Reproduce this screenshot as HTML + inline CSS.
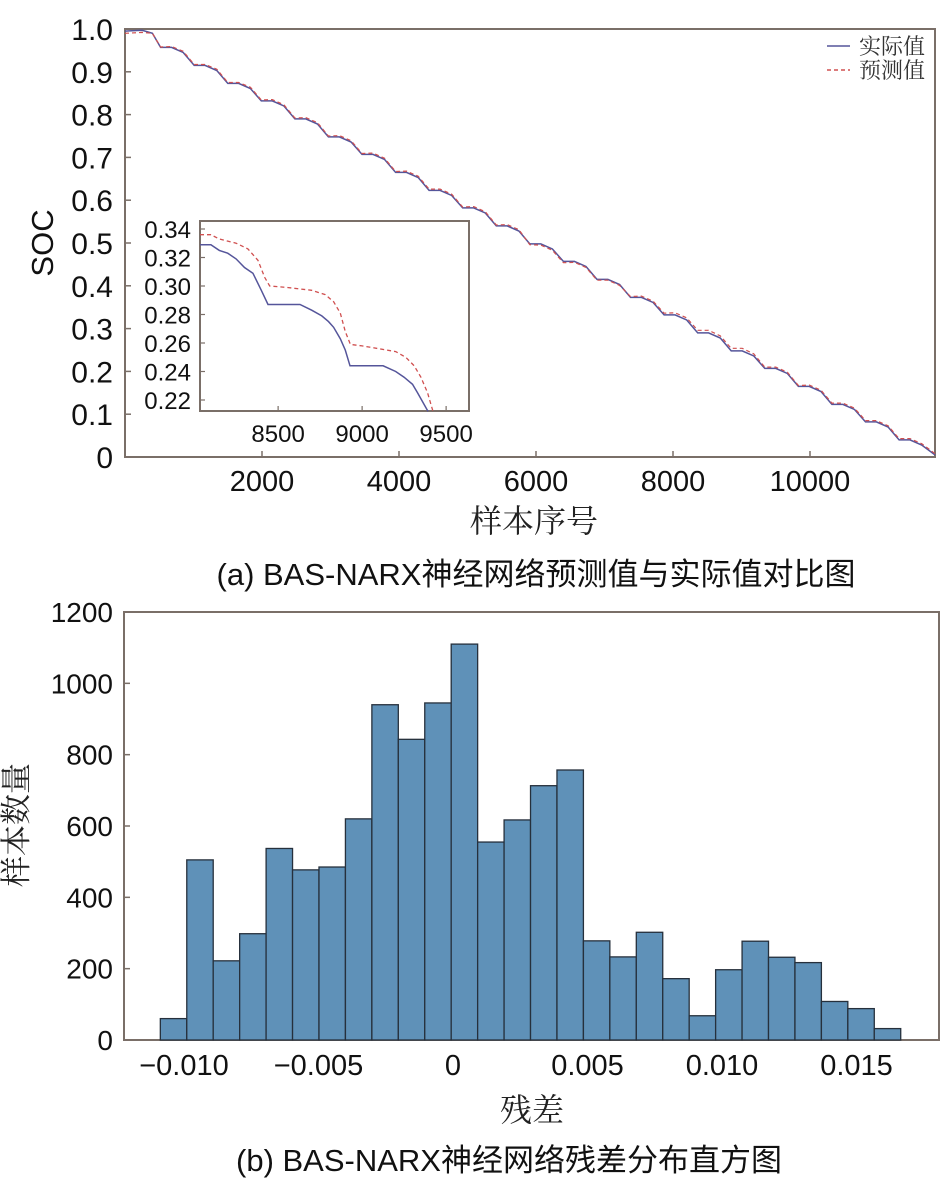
<!DOCTYPE html>
<html><head><meta charset="utf-8">
<style>
html,body{margin:0;padding:0;background:#fff;}
svg{display:block;font-family:"Liberation Sans","Noto Sans CJK SC",sans-serif;}
.cjk{font-family:"Liberation Serif","Noto Serif CJK SC",serif;}
</style></head>
<body>
<svg id="fig" width="945" height="1186" viewBox="0 0 945 1186" xmlns="http://www.w3.org/2000/svg">
<g id="chartA"></g>
<g id="chartB"></g>
</svg>
<script>
// ---------- Chart A data ----------
const socTicks = [0,0.1,0.2,0.3,0.4,0.5,0.6,0.7,0.8,0.9,1.0];
const socTickLabels = ["0","0.1","0.2","0.3","0.4","0.5","0.6","0.7","0.8","0.9","1.0"];
const sampleTicks = [2000,4000,6000,8000,10000];
const actualX = [0,250,400,520,680,850,1010,1170,1340,1500,1660,1830,1990,2150,2320,2480,2640,2810,2970,3130,3300,3460,3620,3790,3950,4110,4280,4440,4600,4770,4930,5090,5260,5420,5580,5750,5910,6070,6240,6400,6560,6730,6890,7050,7220,7380,7540,7710,7870,8030,8200,8360,8520,8690,8850,9010,9180,9340,9500,9670,9830,9990,10160,10320,10480,10650,10810,10970,11140,11300,11460,11630,11825];
const actualY = [0.995,0.997,0.99,0.957,0.957,0.945,0.915,0.915,0.903,0.873,0.873,0.861,0.832,0.832,0.820,0.790,0.790,0.778,0.748,0.748,0.736,0.707,0.707,0.695,0.665,0.665,0.653,0.623,0.623,0.611,0.582,0.582,0.570,0.540,0.540,0.528,0.498,0.498,0.486,0.457,0.457,0.445,0.415,0.415,0.403,0.373,0.373,0.361,0.332,0.332,0.320,0.290,0.290,0.278,0.248,0.248,0.236,0.207,0.207,0.195,0.165,0.165,0.153,0.123,0.123,0.111,0.082,0.082,0.070,0.040,0.040,0.028,0.005];
const predY = [0.99,0.992,0.99,0.958,0.959,0.948,0.917,0.917,0.906,0.875,0.875,0.864,0.834,0.835,0.823,0.792,0.793,0.781,0.750,0.751,0.739,0.709,0.710,0.698,0.667,0.668,0.656,0.626,0.626,0.614,0.584,0.585,0.573,0.542,0.543,0.531,0.496,0.495,0.483,0.454,0.455,0.443,0.413,0.413,0.401,0.375,0.376,0.364,0.336,0.337,0.325,0.296,0.296,0.283,0.254,0.254,0.241,0.210,0.210,0.198,0.167,0.168,0.156,0.126,0.126,0.114,0.085,0.085,0.073,0.043,0.043,0.031,0.008];
// inset
const insetTicksX = [8500,9000,9500];
const insetTicksY = [0.22,0.24,0.26,0.28,0.30,0.32,0.34];
const insetActX = [8035,8100,8150,8200,8250,8300,8350,8400,8440,8630,8700,8760,8800,8830,8870,8900,8928,9125,9200,9250,9300,9330,9392];
const insetActY = [0.329,0.329,0.325,0.323,0.319,0.313,0.309,0.297,0.287,0.287,0.283,0.279,0.275,0.271,0.263,0.255,0.244,0.244,0.240,0.236,0.231,0.225,0.212];
const insetPredX = [8035,8100,8150,8250,8320,8380,8420,8450,8550,8700,8780,8830,8870,8900,8930,9000,9100,9200,9260,9310,9350,9390,9422];
const insetPredY = [0.336,0.336,0.333,0.330,0.326,0.318,0.306,0.300,0.299,0.297,0.294,0.289,0.281,0.268,0.259,0.258,0.256,0.254,0.250,0.244,0.236,0.225,0.212];

// ---------- Chart B data ----------
const binStart = -0.01088;
const binWidth = 0.000983;
const counts = [60,505,222,298,537,477,485,620,940,843,945,1110,555,617,713,757,278,233,302,172,68,197,277,232,217,108,88,32];
const countTicks = [0,200,400,600,800,1000,1200];
const residTicks = [-0.010,-0.005,0,0.005,0.010,0.015];
const residTickLabels = ["\u22120.010","\u22120.005","0","0.005","0.010","0.015"];

const NS="http://www.w3.org/2000/svg";
function mk(tag, attrs, parent){const e=document.createElementNS(NS,tag);for(const k in attrs)e.setAttribute(k,attrs[k]);parent.appendChild(e);return e;}
const axisCol="#7a6f68";

// ---------- Chart A ----------
(function(){
const g=document.getElementById('chartA');
const L=125,R=935,T=29,B=457;
const xs=v=>L+v*0.0685;
const ys=v=>B-(v)*(B-T);
const frame=mk('rect',{x:L,y:T,width:R-L,height:B-T,fill:'none',stroke:axisCol,'stroke-width':2},g);


socTicks.forEach((v,i)=>{
  const t=mk('line',{x1:L,x2:L+6,y1:ys(v),y2:ys(v),stroke:axisCol,'stroke-width':1.5},g);
  
  const tx=mk('text',{x:113,y:ys(v)+11,'text-anchor':'end','font-size':30,fill:'#111'},g);
  tx.textContent=socTickLabels[i];
  
});
sampleTicks.forEach(v=>{
  const t=mk('line',{x1:xs(v),x2:xs(v),y1:B,y2:B-6,stroke:axisCol,'stroke-width':1.5},g);
  
  const tx=mk('text',{x:xs(v),y:491,'text-anchor':'middle','font-size':29,fill:'#111'},g);
  tx.textContent=String(v);
  
});
const pts=(X,Y,fx,fy)=>X.map((x,i)=>fx(x).toFixed(1)+','+fy(Y[i]).toFixed(1)).join(' ');
const pa=mk('polyline',{points:pts(actualX,actualY,xs,ys),fill:'none',stroke:'#55559a','stroke-width':1.5},g);

const pp=mk('polyline',{points:pts(actualX,predY,xs,ys),fill:'none',stroke:'#d05050','stroke-width':1.2,'stroke-dasharray':'4,3'},g);

// legend
const lg=mk('g',{},g);
mk('line',{x1:827,x2:850,y1:46,y2:46,stroke:'#55559a','stroke-width':1.5},lg);
mk('line',{x1:827,x2:850,y1:70,y2:70,stroke:'#d05050','stroke-width':1.5,'stroke-dasharray':'4,3'},lg);
const l1=mk('text',{x:859,y:54,'font-size':22,fill:'#333',class:'cjk'},lg);l1.textContent='实际值';

const l2=mk('text',{x:859,y:78,'font-size':22,fill:'#333',class:'cjk'},lg);l2.textContent='预测值';

// axis titles
const yt=mk('text',{x:53,y:243,'text-anchor':'middle','font-size':31,fill:'#111',transform:'rotate(-90 53 243)'},g);
yt.textContent='SOC';
const xt=mk('text',{x:534,y:532,'text-anchor':'middle','font-size':32,fill:'#222',class:'cjk'},g);
xt.textContent='样本序号';
const cap=mk('text',{x:536,y:585,'text-anchor':'middle','font-size':31,fill:'#111'},g);
cap.textContent='(a) BAS-NARX神经网络预测值与实际值对比图';
// inset
const ig=mk('g',{},g);
const iL=200,iR=469,iT=221,iB=411;
const ixs=v=>iL+(v-8035)*0.168;
const iys=v=>400-(v-0.22)/0.12*171;
mk('rect',{x:iL,y:iT,width:iR-iL,height:iB-iT,fill:'#fff',stroke:axisCol,'stroke-width':2},ig);
insetTicksY.forEach(v=>{
  mk('line',{x1:iL,x2:iL+5,y1:iys(v),y2:iys(v),stroke:axisCol,'stroke-width':1.2},ig);
  const tx=mk('text',{x:191,y:iys(v)+9,'text-anchor':'end','font-size':24,fill:'#111'},ig);
  tx.textContent=v.toFixed(2);
  
});
insetTicksX.forEach(v=>{
  mk('line',{x1:ixs(v),x2:ixs(v),y1:iB,y2:iB-5,stroke:axisCol,'stroke-width':1.2},ig);
  const tx=mk('text',{x:ixs(v),y:442,'text-anchor':'middle','font-size':24,fill:'#111'},ig);
  tx.textContent=String(v);
  
});
const ia=mk('polyline',{points:pts(insetActX,insetActY,ixs,iys),fill:'none',stroke:'#55559a','stroke-width':1.5},ig);

const ip=mk('polyline',{points:pts(insetPredX,insetPredY,ixs,iys),fill:'none',stroke:'#d05050','stroke-width':1.3,'stroke-dasharray':'4,3'},ig);

})();

// ---------- Chart B ----------
(function(){
const g=document.getElementById('chartB');
const L=124,R=939,T=612,B=1040;
const xs=v=>453+v*26900;
const ys=v=>B-v/1200*(B-T);
const fr=mk('rect',{x:L,y:T,width:R-L,height:B-T,fill:'none',stroke:axisCol,'stroke-width':2},g);

counts.forEach((c,i)=>{
  const x0=xs(binStart+i*binWidth), x1=xs(binStart+(i+1)*binWidth);
  const r=mk('rect',{x:x0,y:ys(c),width:x1-x0,height:B-ys(c),fill:'#5f91b8',stroke:'#26303c','stroke-width':1.3},g);
  
});
countTicks.forEach(v=>{
  const t=mk('line',{x1:L,x2:L+6,y1:ys(v),y2:ys(v),stroke:axisCol,'stroke-width':1.5},g);
  
  const tx=mk('text',{x:113,y:ys(v)+10,'text-anchor':'end','font-size':28,fill:'#111'},g);
  tx.textContent=String(v);
  
});
residTicks.forEach((v,i)=>{
  const tx=mk('text',{x:xs(v),y:1075,'text-anchor':'middle','font-size':29,fill:'#111'},g);
  tx.textContent=residTickLabels[i];
  
});
const yt=mk('text',{x:27,y:825,'text-anchor':'middle','font-size':31,fill:'#222',class:'cjk',transform:'rotate(-90 27 825)'},g);
yt.textContent='样本数量';
const xt=mk('text',{x:532,y:1121,'text-anchor':'middle','font-size':32,fill:'#222',class:'cjk'},g);
xt.textContent='残差';
const cap=mk('text',{x:509,y:1171,'text-anchor':'middle','font-size':31,fill:'#111'},g);
cap.textContent='(b) BAS-NARX神经网络残差分布直方图';
})();
</script>
</body></html>
